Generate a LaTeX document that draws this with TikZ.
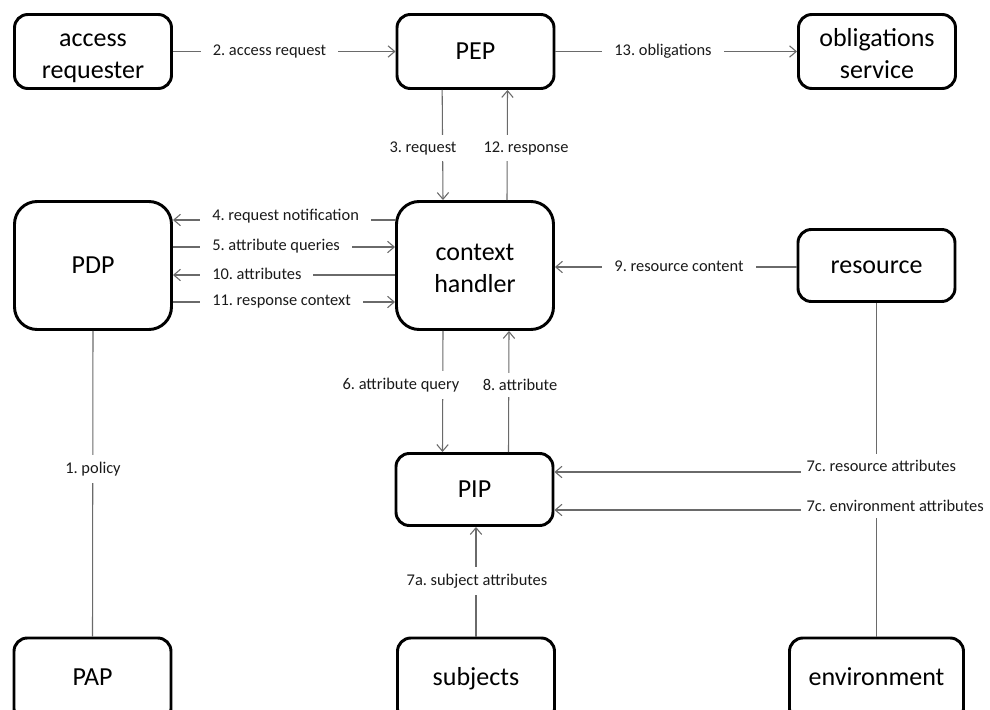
\documentclass[tikz,border=0pt]{standalone}
\usepackage{fontspec}
\setmainfont{Carlito}
\usetikzlibrary{arrows.meta}
\definecolor{lncol}{HTML}{6A6A6A}
\definecolor{txtcol}{HTML}{1A1A1A}
\begin{document}
\frenchspacing
\begin{tikzpicture}[x=0.75pt,y=-0.75pt,
  box/.style={draw=black, line width=2.2pt, fill=white, rounded corners=10pt,
    minimum width=117.75pt, minimum height=55.5pt, align=center,
    font=\fontsize{19.5}{24}\selectfont, text=black, inner sep=0pt,
    text height=40pt, text depth=0pt},
  onebox/.style={box, text height=12pt, text depth=0pt},
  lowbox/.style={onebox, minimum height=63pt, text height=8.5pt},
  bigbox/.style={box, minimum height=96pt, rounded corners=17pt},
  lbl/.style={fill=white, text=txtcol, font=\fontsize{12.3}{14}\selectfont,
    inner xsep=9pt, inner ysep=5pt},
  conn/.style={draw=lncol, line width=0.8pt},
  arr/.style={conn, -{Straight Barb[length=5pt,width=8.5pt]}}]
\clip (0,0) rectangle (990,710);
\fill[white] (0,0) rectangle (990,710);

% components
\node[box] (req) at (93,51.5) {access\\requester};
\node[onebox] (pep) at (475.5,51.5) {PEP};
\node[box] (obl) at (877,51.5) {obligations\\service};
\node[bigbox, text height=12pt] (pdp) at (93,265.5) {PDP};
\node[bigbox] (ch) at (475,265.5) {context\\handler};
\node[onebox, minimum height=54pt] (res) at (876.5,265.5) {resource};
\node[onebox, minimum height=54pt] (pip) at (474.5,489.5) {PIP};
\node[lowbox] (pap) at (92.5,680) {PAP};
\node[lowbox] (sub) at (476,680) {subjects};
\node[lowbox, minimum width=130.5pt] (env) at (876.5,680) {environment};

% top row
\draw[arr] (req) -- (pep);
\node[lbl] (l2) at (269.5,51.5) {2. access request};
\draw[arr] (pep) -- (obl);
\node[lbl] (l13) at (663,51.5) {13. obligations};

% PEP <-> context handler
\draw[arr] ([xshift=-25pt]pep.south) -- ([xshift=-24pt]ch.north);
\draw[arr] ([xshift=24pt]ch.north) -- ([xshift=24pt]pep.south);
\node[lbl] (l3) at (423,148) {3. request};
\node[lbl] (l12) at (526,148) {12. response};

% PDP <-> context handler
\draw[arr] (ch.west |- 0,220) -- (pdp.east |- 0,220);
\draw[arr] (pdp.east |- 0,247) -- (ch.west |- 0,247);
\draw[arr] (ch.west |- 0,275) -- (pdp.east |- 0,275);
\draw[arr] (pdp.east |- 0,302) -- (ch.west |- 0,302);
\node[lbl, anchor=west] (l4) at (200,216) {4. request notification};
\node[lbl, anchor=west] (l5) at (200,246) {5. attribute queries};
\node[lbl, anchor=west] (l10) at (200,274) {10. attributes};
\node[lbl, anchor=west] (l11) at (200,302) {11. response context};

% resource -> context handler
\draw[arr] (res.west |- 0,267) -- (ch.east |- 0,267);
\node[lbl] (l9) at (679,266) {9. resource content};

% context handler <-> PIP
\draw[arr] ([xshift=-24pt]ch.south) -- ([xshift=-24pt]pip.north);
\draw[arr] ([xshift=25.5pt]pip.north) -- ([xshift=25.5pt]ch.south);
\node[lbl] (l6) at (401,385) {6. attribute query};
\node[lbl] (l8) at (520,385) {8. attribute};

% PAP -- PDP
\draw[conn] (pap.north) -- (pdp.south);
\node[lbl] (l1) at (93,469) {1. policy};

% subjects -> PIP
\draw[arr] (sub.north -| 476,0) -- (pip.south -| 476,0);
\node[lbl] (l7a) at (477,581) {7a. subject attributes};

% resource / environment -> PIP
\draw[arr] (res.south) |- (pip.east |- 0,472);
\draw[arr] (env.north) |- (pip.east |- 0,510);
\node[lbl, anchor=west, inner xsep=4pt] (l7r) at (801,466) {7c. resource attributes};
\node[lbl, anchor=west, inner xsep=4pt] (l7e) at (801,506) {7c. environment attributes};
\end{tikzpicture}
\end{document}
